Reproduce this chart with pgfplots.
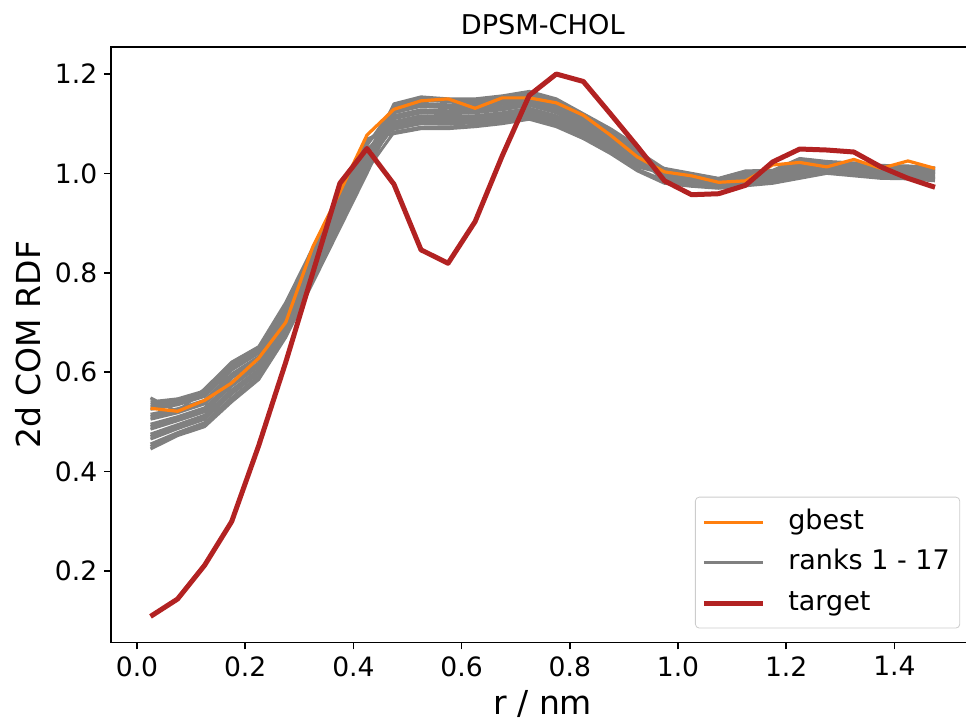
\documentclass[border=0pt]{standalone}
\usepackage{pgfplots}
\pgfplotsset{compat=1.18}
\usepackage{fontspec}
\setmainfont{DejaVu Sans}
\definecolor{gb}{HTML}{FF7F0E}
\definecolor{tg}{HTML}{B22222}
\definecolor{rk}{HTML}{808080}
\begin{document}
\begin{tikzpicture}
\begin{axis}[
  scale only axis, width=431.5pt, height=297.8pt,
  xmin=-0.0475, xmax=1.5475, ymin=0.0555, ymax=1.2545,
  xtick={0,0.2,0.4,0.6,0.8,1.0,1.2,1.4},
  ytick={0.2,0.4,0.6,0.8,1.0,1.2},
  tick align=outside, major tick length=3.5pt,
  xtick pos=lower, ytick pos=left,
  tick style={black, line width=0.8pt},
  axis line style={line width=0.8pt},
  /pgf/number format/assume math mode=true,
  /pgf/number format/fixed, /pgf/number format/fixed zerofill, /pgf/number format/precision=1,
  tick label style={font=\fontsize{13.3}{16}\selectfont},
  title={DPSM-CHOL}, title style={font=\fontsize{13.6}{16}\selectfont, yshift=-3.5pt},
  xlabel={r / nm}, ylabel={2d COM RDF},
  label style={font=\fontsize{16.5}{20}\selectfont},
  legend style={at={(1,0)}, anchor=south east, xshift=-7pt, yshift=7pt,
    draw=black!20, rounded corners=2pt, fill=white, fill opacity=0.8, text opacity=1,
    font=\fontsize{13.5}{16}\selectfont, inner xsep=3pt, inner ysep=4pt,
    row sep=3.25pt, column sep=9.5pt,
    nodes={inner xsep=2pt, inner ysep=2pt, text height=10pt, text depth=3pt}},
  legend cell align=left,
  legend image code/.code={\draw[#1] (0pt,0pt) -- (29.5pt,0pt);},
  every axis plot/.append style={line join=round},
]
% ranks 1 - 17
\addplot[rk, line width=1.5pt, forget plot] coordinates {(0.025,0.445)(0.075,0.472)(0.125,0.490)(0.175,0.540)(0.225,0.585)(0.275,0.670)(0.325,0.780)(0.375,0.890)(0.425,1.000)(0.475,1.116)(0.525,1.128)(0.575,1.126)(0.625,1.128)(0.675,1.134)(0.725,1.143)(0.775,1.128)(0.825,1.100)(0.875,1.070)(0.925,1.035)(0.975,1.003)(1.025,0.994)(1.075,0.985)(1.125,0.998)(1.175,1.000)(1.225,1.020)(1.275,1.018)(1.325,1.015)(1.375,1.010)(1.425,1.009)(1.475,1.005)};
\addplot[rk, line width=1.5pt, forget plot] coordinates {(0.025,0.455)(0.075,0.478)(0.125,0.498)(0.175,0.548)(0.225,0.592)(0.275,0.677)(0.325,0.787)(0.375,0.897)(0.425,1.007)(0.475,1.083)(0.525,1.093)(0.575,1.093)(0.625,1.097)(0.675,1.103)(0.725,1.112)(0.775,1.097)(0.825,1.073)(0.875,1.043)(0.925,1.008)(0.975,0.986)(1.025,0.979)(1.075,0.974)(1.125,0.981)(1.175,0.985)(1.225,0.998)(1.275,1.005)(1.325,1.000)(1.375,0.995)(1.425,0.994)(1.475,0.990)};
\addplot[rk, line width=1.5pt, forget plot] coordinates {(0.025,0.465)(0.075,0.486)(0.125,0.505)(0.175,0.556)(0.225,0.598)(0.275,0.684)(0.325,0.794)(0.375,0.904)(0.425,1.014)(0.475,1.128)(0.525,1.141)(0.575,1.138)(0.625,1.139)(0.675,1.145)(0.725,1.154)(0.775,1.139)(0.825,1.110)(0.875,1.080)(0.925,1.045)(0.975,1.009)(1.025,0.999)(1.075,0.989)(1.125,1.004)(1.175,1.005)(1.225,1.028)(1.275,1.023)(1.325,1.020)(1.375,1.015)(1.425,1.014)(1.475,1.010)};
\addplot[rk, line width=1.5pt, forget plot] coordinates {(0.025,0.475)(0.075,0.494)(0.125,0.513)(0.175,0.564)(0.225,0.605)(0.275,0.691)(0.325,0.801)(0.375,0.911)(0.425,1.021)(0.475,1.095)(0.525,1.106)(0.575,1.105)(0.625,1.108)(0.675,1.114)(0.725,1.123)(0.775,1.108)(0.825,1.083)(0.875,1.053)(0.925,1.018)(0.975,0.997)(1.025,0.988)(1.075,0.981)(1.125,0.992)(1.175,0.994)(1.225,1.012)(1.275,1.013)(1.325,1.009)(1.375,1.004)(1.425,1.003)(1.475,0.999)};
\addplot[rk, line width=1.5pt, forget plot] coordinates {(0.025,0.485)(0.075,0.502)(0.125,0.520)(0.175,0.572)(0.225,0.611)(0.275,0.698)(0.325,0.808)(0.375,0.918)(0.425,1.028)(0.475,1.140)(0.525,1.154)(0.575,1.150)(0.625,1.150)(0.675,1.156)(0.725,1.165)(0.775,1.150)(0.825,1.120)(0.875,1.090)(0.925,1.055)(0.975,0.991)(1.025,0.983)(1.075,0.977)(1.125,0.986)(1.175,0.989)(1.225,1.004)(1.275,1.008)(1.325,1.004)(1.375,0.999)(1.425,0.998)(1.475,0.994)};
\addplot[rk, line width=1.5pt, forget plot] coordinates {(0.025,0.495)(0.075,0.510)(0.125,0.528)(0.175,0.580)(0.225,0.618)(0.275,0.705)(0.325,0.815)(0.375,0.925)(0.425,1.035)(0.475,1.104)(0.525,1.116)(0.575,1.114)(0.625,1.116)(0.675,1.122)(0.725,1.131)(0.775,1.116)(0.825,1.090)(0.875,1.060)(0.925,1.025)(0.975,1.006)(1.025,0.996)(1.075,0.987)(1.125,1.001)(1.175,1.002)(1.225,1.024)(1.275,1.020)(1.325,1.017)(1.375,1.012)(1.425,1.011)(1.475,1.007)};
\addplot[rk, line width=1.5pt, forget plot] coordinates {(0.025,0.505)(0.075,0.518)(0.125,0.536)(0.175,0.588)(0.225,0.625)(0.275,0.712)(0.325,0.822)(0.375,0.932)(0.425,1.042)(0.475,1.122)(0.525,1.135)(0.575,1.132)(0.625,1.133)(0.675,1.139)(0.725,1.148)(0.775,1.133)(0.825,1.105)(0.875,1.075)(0.925,1.040)(0.975,0.983)(1.025,0.977)(1.075,0.972)(1.125,0.978)(1.175,0.983)(1.225,0.994)(1.275,1.002)(1.325,0.998)(1.375,0.993)(1.425,0.992)(1.475,0.988)};
\addplot[rk, line width=1.5pt, forget plot] coordinates {(0.025,0.515)(0.075,0.526)(0.125,0.543)(0.175,0.596)(0.225,0.631)(0.275,0.719)(0.325,0.829)(0.375,0.939)(0.425,1.049)(0.475,1.089)(0.525,1.100)(0.575,1.099)(0.625,1.102)(0.675,1.108)(0.725,1.117)(0.775,1.102)(0.825,1.078)(0.875,1.048)(0.925,1.013)(0.975,1.000)(1.025,0.991)(1.075,0.983)(1.125,0.995)(1.175,0.997)(1.225,1.016)(1.275,1.016)(1.325,1.012)(1.375,1.007)(1.425,1.006)(1.475,1.002)};
\addplot[rk, line width=1.5pt, forget plot] coordinates {(0.025,0.525)(0.075,0.534)(0.125,0.551)(0.175,0.604)(0.225,0.638)(0.275,0.726)(0.325,0.836)(0.375,0.946)(0.425,1.056)(0.475,1.134)(0.525,1.148)(0.575,1.144)(0.625,1.144)(0.675,1.150)(0.725,1.159)(0.775,1.144)(0.825,1.115)(0.875,1.085)(0.925,1.050)(0.975,0.994)(1.025,0.986)(1.075,0.979)(1.125,0.989)(1.175,0.992)(1.225,1.008)(1.275,1.011)(1.325,1.007)(1.375,1.002)(1.425,1.001)(1.475,0.997)};
\addplot[rk, line width=1.5pt, forget plot] coordinates {(0.025,0.535)(0.075,0.542)(0.125,0.558)(0.175,0.612)(0.225,0.644)(0.275,0.733)(0.325,0.843)(0.375,0.953)(0.425,1.063)(0.475,1.110)(0.525,1.122)(0.575,1.120)(0.625,1.122)(0.675,1.128)(0.725,1.137)(0.775,1.122)(0.825,1.095)(0.875,1.065)(0.925,1.030)(0.975,1.010)(1.025,1.000)(1.075,0.990)(1.125,1.005)(1.175,1.006)(1.225,1.030)(1.275,1.024)(1.325,1.021)(1.375,1.016)(1.425,1.015)(1.475,1.011)};
\addplot[rk, line width=1.5pt, forget plot] coordinates {(0.025,0.548)(0.075,0.520)(0.125,0.566)(0.175,0.620)(0.225,0.651)(0.275,0.740)(0.325,0.850)(0.375,0.960)(0.425,1.070)(0.475,1.080)(0.525,1.090)(0.575,1.090)(0.625,1.094)(0.675,1.100)(0.725,1.109)(0.775,1.094)(0.825,1.070)(0.875,1.040)(0.925,1.005)(0.975,0.980)(1.025,0.974)(1.075,0.970)(1.125,0.975)(1.175,0.980)(1.225,0.990)(1.275,1.000)(1.325,0.995)(1.375,0.990)(1.425,0.989)(1.475,0.985)};
\addplot[rk, line width=1.5pt, forget plot] coordinates {(0.025,0.450)(0.075,0.474)(0.125,0.494)(0.175,0.544)(0.225,0.588)(0.275,0.674)(0.325,0.784)(0.375,0.894)(0.425,1.004)(0.475,1.125)(0.525,1.138)(0.575,1.135)(0.625,1.136)(0.675,1.142)(0.725,1.151)(0.775,1.136)(0.825,1.108)(0.875,1.078)(0.925,1.043)(0.975,0.995)(1.025,0.987)(1.075,0.980)(1.125,0.990)(1.175,0.993)(1.225,1.010)(1.275,1.012)(1.325,1.008)(1.375,1.003)(1.425,1.002)(1.475,0.998)};
\addplot[rk, line width=1.5pt, forget plot] coordinates {(0.025,0.470)(0.075,0.490)(0.125,0.509)(0.175,0.560)(0.225,0.602)(0.275,0.688)(0.325,0.798)(0.375,0.908)(0.425,1.018)(0.475,1.098)(0.525,1.109)(0.575,1.108)(0.625,1.111)(0.675,1.117)(0.725,1.126)(0.775,1.111)(0.825,1.085)(0.875,1.055)(0.925,1.020)(0.975,1.003)(1.025,0.994)(1.075,0.985)(1.125,0.998)(1.175,1.000)(1.225,1.020)(1.275,1.018)(1.325,1.015)(1.375,1.010)(1.425,1.009)(1.475,1.005)};
\addplot[rk, line width=1.5pt, forget plot] coordinates {(0.025,0.490)(0.075,0.506)(0.125,0.524)(0.175,0.576)(0.225,0.615)(0.275,0.702)(0.325,0.812)(0.375,0.922)(0.425,1.032)(0.475,1.137)(0.525,1.151)(0.575,1.147)(0.625,1.147)(0.675,1.153)(0.725,1.162)(0.775,1.147)(0.825,1.118)(0.875,1.088)(0.925,1.053)(0.975,0.988)(1.025,0.981)(1.075,0.975)(1.125,0.983)(1.175,0.987)(1.225,1.000)(1.275,1.006)(1.325,1.002)(1.375,0.997)(1.425,0.996)(1.475,0.992)};
\addplot[rk, line width=1.5pt, forget plot] coordinates {(0.025,0.510)(0.075,0.522)(0.125,0.539)(0.175,0.592)(0.225,0.628)(0.275,0.716)(0.325,0.826)(0.375,0.936)(0.425,1.046)(0.475,1.092)(0.525,1.103)(0.575,1.102)(0.625,1.105)(0.675,1.111)(0.725,1.120)(0.775,1.105)(0.825,1.080)(0.875,1.050)(0.925,1.015)(0.975,1.007)(1.025,0.997)(1.075,0.988)(1.125,1.002)(1.175,1.003)(1.225,1.026)(1.275,1.022)(1.325,1.018)(1.375,1.013)(1.425,1.012)(1.475,1.008)};
\addplot[rk, line width=1.5pt, forget plot] coordinates {(0.025,0.530)(0.075,0.538)(0.125,0.555)(0.175,0.608)(0.225,0.641)(0.275,0.730)(0.325,0.840)(0.375,0.950)(0.425,1.060)(0.475,1.113)(0.525,1.125)(0.575,1.123)(0.625,1.125)(0.675,1.131)(0.725,1.140)(0.775,1.125)(0.825,1.098)(0.875,1.068)(0.925,1.033)(0.975,0.985)(1.025,0.978)(1.075,0.973)(1.125,0.980)(1.175,0.984)(1.225,0.996)(1.275,1.004)(1.325,0.999)(1.375,0.994)(1.425,0.993)(1.475,0.989)};
\addplot[rk, line width=1.5pt, forget plot] coordinates {(0.025,0.540)(0.075,0.546)(0.125,0.562)(0.175,0.616)(0.225,0.648)(0.275,0.737)(0.325,0.847)(0.375,0.957)(0.425,1.067)(0.475,1.101)(0.525,1.112)(0.575,1.111)(0.625,1.114)(0.675,1.120)(0.725,1.129)(0.775,1.114)(0.825,1.088)(0.875,1.058)(0.925,1.023)(0.975,0.998)(1.025,0.990)(1.075,0.982)(1.125,0.993)(1.175,0.996)(1.225,1.014)(1.275,1.014)(1.325,1.011)(1.375,1.006)(1.425,1.005)(1.475,1.001)};
% gbest
\addplot[gb, line width=1.6pt] coordinates {(0.025,0.527)(0.075,0.521)(0.125,0.543)(0.175,0.578)(0.225,0.628)(0.275,0.700)(0.325,0.852)(0.375,0.962)(0.425,1.077)(0.475,1.129)(0.525,1.146)(0.575,1.150)(0.625,1.131)(0.675,1.152)(0.725,1.152)(0.775,1.142)(0.825,1.117)(0.875,1.077)(0.925,1.033)(0.975,1.003)(1.025,0.995)(1.075,0.982)(1.125,0.985)(1.175,1.017)(1.225,1.022)(1.275,1.013)(1.325,1.028)(1.375,1.010)(1.425,1.025)(1.475,1.010)};
\addlegendentry{gbest}
\addlegendimage{rk, line width=1.9pt}
\addlegendentry{ranks 1 - 17}
% target
\addplot[tg, line width=2.5pt] coordinates {(0.025,0.108)(0.075,0.143)(0.125,0.211)(0.175,0.299)(0.225,0.452)(0.275,0.620)(0.325,0.800)(0.375,0.980)(0.425,1.050)(0.475,0.978)(0.525,0.846)(0.575,0.819)(0.625,0.903)(0.675,1.035)(0.725,1.157)(0.775,1.200)(0.825,1.185)(0.875,1.120)(0.925,1.054)(0.975,0.985)(1.025,0.957)(1.075,0.959)(1.125,0.976)(1.175,1.023)(1.225,1.049)(1.275,1.047)(1.325,1.043)(1.375,1.013)(1.425,0.990)(1.475,0.972)};
\addlegendentry{target}
\coordinate (bbSW) at (axis cs:-0.25323,-0.10312);
\coordinate (bbNE) at (axis cs:1.53235,1.34904);
\end{axis}
\pgfresetboundingbox
\useasboundingbox (bbSW) rectangle (bbNE);
\end{tikzpicture}
\end{document}
